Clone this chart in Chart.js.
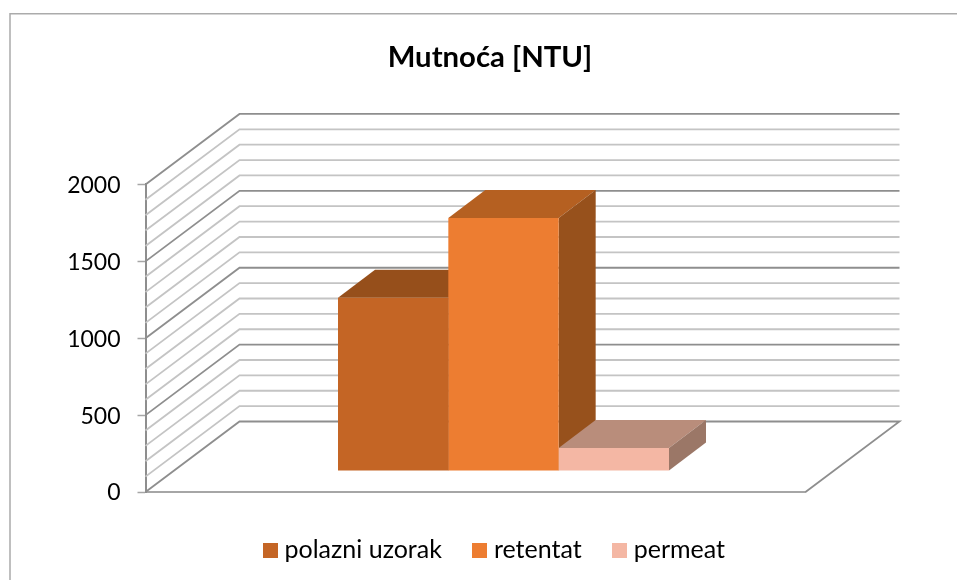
<!DOCTYPE html>
<html>
<head>
<meta charset="utf-8">
<style>html,body{margin:0;padding:0;background:#fff}canvas{display:block}</style>
<script src="https://cdn.jsdelivr.net/npm/chart.js@4"></script>
</head>
<body>
<canvas id="c" width="957" height="580"></canvas>
<script>
const titleText = 'Mutnoća [NTU]';
const categories = ['Mutnoća'];
const seriesNames = ['polazni uzorak', 'retentat', 'permeat'];
const polazniUzorak = [1127];
const retentat = [1645];
const permeat = [149];
const frontColors = ['#C46525', '#ED7D31', '#F4B7A4'];
const topColors = ['#964F1B', '#B56021', '#B98D7B'];
const sideColors = ['#964F1B', '#97511C', '#9B7767'];
const FONT = 'Lato, Carlito, Calibri, sans-serif';

const DEPTH = {x: 94, y: 70.5};     // wall depth
const BAR_SHIFT = {x: 28, y: 21};   // bar plane behind the front plane
const BAR_DEPTH = {x: 37, y: 28};

function legendSwatch(color) {
  const c = document.createElement('canvas');
  c.width = 15; c.height = 15;
  const g = c.getContext('2d');
  g.fillStyle = color; g.fillRect(0, 0, 15, 15);
  return c;
}
function poly(ctx, pts, fill) {
  ctx.beginPath();
  pts.forEach((p, i) => i ? ctx.lineTo(p[0], p[1]) : ctx.moveTo(p[0], p[1]));
  ctx.closePath();
  ctx.fillStyle = fill;
  ctx.fill();
}

const threeD = {
  id: 'threeD',
  afterLayout(chart) {
    const t = chart.titleBlock, l = chart.legend;
    t.left = 0; t.right = 980;
    l.left = 0; l.right = 993;
    const h = l.bottom - l.top;
    l.top = 502; l.bottom = 502 + h;
  },
  beforeDraw(chart) {
    const ctx = chart.ctx;
    ctx.save();
    ctx.fillStyle = '#fff';
    ctx.fillRect(0, 0, chart.width, chart.height);
    ctx.strokeStyle = '#ABABAB';
    ctx.lineWidth = 1.5;
    ctx.strokeRect(10, 13.75, chart.width + 20, chart.height + 20);
    ctx.restore();
  },
  beforeDatasetsDraw(chart) {
    const ctx = chart.ctx, y = chart.scales.y, a = chart.chartArea;
    ctx.save();
    // walls and floor
    y.ticks.forEach(t => {
      const py = y.getPixelForValue(t.value);
      const major = t.value % 500 === 0;
      ctx.beginPath();
      ctx.moveTo(a.left, py);
      ctx.lineTo(a.left + DEPTH.x, py - DEPTH.y);
      ctx.lineTo(a.right + DEPTH.x, py - DEPTH.y);
      if (t.value === 0) {
        ctx.lineTo(a.right, py);
      }
      ctx.lineWidth = 1.8;
      ctx.strokeStyle = major ? '#8E8E8E' : '#C4C4C4';
      ctx.stroke();
    });
    ctx.restore();
    // bars: shifted into the middle of the depth
    ctx.save();
    ctx.translate(BAR_SHIFT.x, -BAR_SHIFT.y);
    chart.data.datasets.forEach((d, i) => {
      chart.getDatasetMeta(i).data.forEach(b => {
        const L = b.x - b.width / 2, R = b.x + b.width / 2, T = b.y, B = b.base;
        const dx = BAR_DEPTH.x, dy = BAR_DEPTH.y;
        poly(ctx, [[L, T], [R, T], [R + dx, T - dy], [L + dx, T - dy]], topColors[i]);
        poly(ctx, [[R, T], [R + dx, T - dy], [R + dx, B - dy], [R, B]], sideColors[i]);
      });
    });
  },
  afterDatasetsDraw(chart) {
    chart.ctx.restore();
  }
};

new Chart(document.getElementById('c'), {
  type: 'bar',
  data: {
    labels: categories,
    datasets: [
      {label: seriesNames[0], data: polazniUzorak, backgroundColor: frontColors[0]},
      {label: seriesNames[1], data: retentat, backgroundColor: frontColors[1]},
      {label: seriesNames[2], data: permeat, backgroundColor: frontColors[2]}
    ]
  },
  plugins: [threeD],
  options: {
    responsive: false,
    animation: false,
    events: [],
    layout: {padding: {left: 0, right: 151.5, top: 0, bottom: 0}},
    categoryPercentage: 0.5015,
    barPercentage: 1,
    plugins: {
      tooltip: {enabled: false},
      title: {
        display: true,
        text: titleText,
        color: '#000',
        font: {family: FONT, size: 29.3, weight: 'bold', lineHeight: 1.2},
        padding: {top: 40, bottom: 109.3}
      },
      legend: {
        display: true,
        position: 'bottom',
        labels: {
          color: '#000',
          font: {family: FONT, size: 25},
          usePointStyle: true,
          pointStyleWidth: 4,
          padding: 35.5,
          generateLabels: chart => chart.data.datasets.map((d, i) => ({
            text: d.label,
            fillStyle: d.backgroundColor,
            strokeStyle: d.backgroundColor,
            lineWidth: 0,
            hidden: false,
            datasetIndex: i,
            pointStyle: legendSwatch(d.backgroundColor)
          }))
        }
      }
    },
    scales: {
      x: {
        grid: {display: false, drawTicks: false},
        border: {display: true, color: '#A6A6A6', width: 2},
        ticks: {display: false},
        afterFit(s) { s.height = 88 - s.chart.legend.height; }
      },
      y: {
        min: 0,
        max: 2000,
        grid: {
          drawOnChartArea: false,
          drawTicks: true,
          tickLength: 8,
          tickColor: c => (c.tick && c.tick.value % 500 === 0) ? '#A6A6A6' : 'rgba(0,0,0,0)',
          tickWidth: 1.5
        },
        border: {display: true, color: '#8E8E8E', width: 2},
        ticks: {
          stepSize: 100,
          autoSkip: false,
          color: '#000',
          padding: 17,
          labelOffset: 1,
          font: {family: FONT, size: 23},
          callback: v => v % 500 === 0 ? String(v) : ''
        },
        afterFit(s) { s.width = 145.5; }
      }
    }
  }
});
</script>
</body>
</html>
